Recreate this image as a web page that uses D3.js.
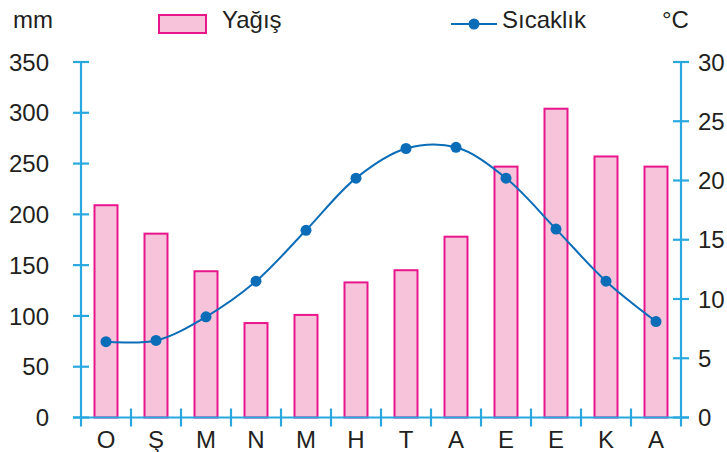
<!DOCTYPE html>
<html><head><meta charset="utf-8">
<script src="https://cdn.jsdelivr.net/npm/d3@7"></script>
<style>body{margin:0;background:#fff}svg{display:block}text{font-family:"Liberation Sans",Arial,sans-serif;fill:#231f20}</style>
</head><body><svg id="c" width="727" height="452"></svg>
<script>
const months = ["O","Ş","M","N","M","H","T","A","E","E","K","A"];
const rain = [209,181,144,93,101,133,145,178,247,304,257,247];
const temp = [6.4,6.5,8.5,11.5,15.8,20.2,22.7,22.8,20.2,15.9,11.5,8.1];
const leftTicks = [0,50,100,150,200,250,300,350];
const rightTicks = [0,5,10,15,20,25,30];

const svg = d3.select("#c");
const L = 81, R = 681, B = 417.5, T = 62;
const axisColor = "#29a8e0";
const x = d3.scaleBand().domain(d3.range(months.length)).range([L, R]);
const yL = d3.scaleLinear().domain([0, 350]).range([B, T]);
const yR = d3.scaleLinear().domain([0, 30]).range([B, T]);

// bars
svg.append("g").selectAll("rect").data(rain).join("rect")
  .attr("x", (d,i) => x(i) + x.bandwidth()/2 - 11.5)
  .attr("width", 23)
  .attr("y", d => yL(d))
  .attr("height", d => B - yL(d))
  .attr("fill", "#f6c3da").attr("stroke", "#e8168b").attr("stroke-width", 2);

// axes
const ax = svg.append("g").attr("stroke", axisColor).attr("stroke-width", 2.2);
ax.append("line").attr("x1", L).attr("x2", L).attr("y1", T).attr("y2", B + 9);
ax.append("line").attr("x1", R).attr("x2", R).attr("y1", T).attr("y2", B + 9);
ax.append("line").attr("x1", L - 8).attr("x2", R + 8).attr("y1", B).attr("y2", B);
leftTicks.forEach(t => ax.append("line").attr("x1", L - 8).attr("x2", L + 8).attr("y1", yL(t)).attr("y2", yL(t)));
rightTicks.forEach(t => ax.append("line").attr("x1", R - 8).attr("x2", R + 8).attr("y1", yR(t)).attr("y2", yR(t)));
d3.range(1, months.length).forEach(i => ax.append("line").attr("x1", x(i)).attr("x2", x(i)).attr("y1", B - 9).attr("y2", B + 9));

// tick labels
svg.append("g").selectAll("text").data(leftTicks).join("text")
  .attr("x", 49).attr("y", d => yL(d)).attr("dy", "0.36em")
  .attr("text-anchor", "end").attr("font-size", 24).text(d => d);
svg.append("g").selectAll("text").data(rightTicks).join("text")
  .attr("x", 698).attr("y", d => yR(d)).attr("dy", "0.36em")
  .attr("text-anchor", "start").attr("font-size", 24).text(d => d);
svg.append("g").selectAll("text").data(months).join("text")
  .attr("x", (d,i) => x(i) + x.bandwidth()/2).attr("y", 448)
  .attr("text-anchor", "middle").attr("font-size", 24).text(d => d);

// line
const line = d3.line().x((d,i) => x(i) + x.bandwidth()/2).y(d => yR(d)).curve(d3.curveCatmullRom.alpha(0.5));
svg.append("path").attr("d", line(temp)).attr("fill", "none").attr("stroke", "#0b6cb8").attr("stroke-width", 2);
svg.append("g").selectAll("circle").data(temp).join("circle")
  .attr("cx", (d,i) => x(i) + x.bandwidth()/2).attr("cy", d => yR(d)).attr("r", 5.5).attr("fill", "#0b6cb8");

// unit labels
svg.append("text").attr("x", 13).attr("y", 28).attr("font-size", 24).text("mm");
svg.append("text").attr("x", 662).attr("y", 28).attr("font-size", 24).text("°C");

// legend
svg.append("rect").attr("x", 159).attr("y", 15).attr("width", 47).attr("height", 18)
  .attr("fill", "#f6c3da").attr("stroke", "#e8168b").attr("stroke-width", 2);
svg.append("text").attr("x", 222).attr("y", 28).attr("font-size", 24).text("Yağış");
svg.append("line").attr("x1", 451).attr("x2", 497).attr("y1", 24).attr("y2", 24).attr("stroke", "#0b6cb8").attr("stroke-width", 2);
svg.append("circle").attr("cx", 474).attr("cy", 24).attr("r", 5.5).attr("fill", "#0b6cb8");
svg.append("text").attr("x", 502).attr("y", 28).attr("font-size", 24).text("Sıcaklık");
</script></body></html>
